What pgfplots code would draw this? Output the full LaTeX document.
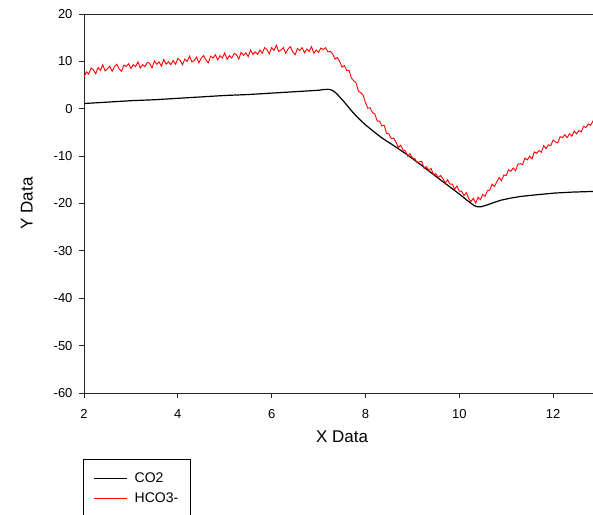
\documentclass[border=0pt]{standalone}
\usepackage{pgfplots}
\pgfplotsset{compat=1.18}
\usepackage{fontspec}
\setmainfont{Liberation Sans}
\begin{document}
\begin{tikzpicture}
\begin{axis}[
  at={(84bp,122bp)}, anchor=south west,
  scale only axis, width=516bp, height=379bp,
  xmin=2, xmax=13, ymin=-60, ymax=20,
  xtick={2,4,...,12}, ytick={-60,-50,...,20},
  tick align=outside, major tick length=5bp,
  xtick pos=bottom, ytick pos=left,
  axis line style={line width=0.9bp, black!85},
  every tick/.style={line width=0.9bp, black!85},
  /pgf/number format/assume math mode=true,
  tick label style={font=\fontsize{13bp}{15bp}\selectfont},
  xticklabel style={yshift=-8bp},
  yticklabel style={xshift=-3bp},
  xlabel={X Data}, ylabel={Y Data},
  label style={font=\fontsize{17bp}{20bp}\selectfont},
  xlabel style={at={(axis description cs:0.5,-0.116)}, anchor=center},
  ylabel style={at={(axis description cs:-0.1107,0.5)}, anchor=center, rotate=0},
  legend style={at={(axis description cs:-0.002,-0.174)}, anchor=north west,
    draw=none, fill=none, font=\fontsize{14bp}{17bp}\selectfont,
    inner xsep=10bp, inner ysep=12bp, row sep=4.5bp, cells={anchor=west}},
  legend image code/.code={\draw[#1, line width=1bp] (0bp,0bp) -- (33bp,0bp);},
]
\addplot[draw=black, line width=1.2bp] coordinates {
(2.0,1.1)(2.5,1.4)(3.0,1.7)(3.5,1.9)(4.0,2.2)(4.5,2.5)(5.0,2.8)(5.5,3.0)(6.0,3.3)(6.5,3.6)
(7.0,3.9)(7.1,4.05)(7.2,4.1)(7.25,4.05)(7.3,3.85)(7.35,3.5)(7.4,3.05)(7.45,2.5)(7.5,1.95)(7.55,1.4)
(7.6,0.8)(7.65,0.2)(7.7,-0.4)(7.8,-1.5)(7.9,-2.5)(8.0,-3.4)(8.1,-4.2)(8.2,-5.0)(8.33,-6.0)(8.45,-6.8)
(8.62,-7.9)(8.8,-9.1)(8.97,-10.3)(9.19,-11.9)(9.36,-13.2)(9.61,-15.1)(9.8,-16.5)(10.04,-18.3)(10.15,-19.2)(10.25,-19.95)
(10.32,-20.45)(10.39,-20.7)(10.45,-20.7)(10.5,-20.6)(10.61,-20.25)(10.75,-19.75)(10.89,-19.3)(11.1,-18.85)(11.32,-18.5)(11.6,-18.2)
(12.03,-17.8)(12.4,-17.6)(12.87,-17.45)
};
\addlegendentry{\hspace{5.5bp}CO2}
\addplot[draw=red, line width=0.9bp] coordinates {
(2.00,6.6)(2.05,7.8)(2.10,7.3)(2.15,8.6)(2.20,8.2)(2.25,7.4)(2.30,8.7)(2.35,8.1)(2.40,9.3)(2.45,8.0)
(2.50,8.4)(2.55,9.0)(2.60,7.9)(2.65,8.9)(2.70,9.4)(2.75,8.4)(2.80,7.9)(2.85,9.2)(2.90,8.9)(2.95,9.5)
(3.00,8.5)(3.05,9.3)(3.10,8.9)(3.15,9.9)(3.20,8.6)(3.25,9.3)(3.30,8.9)(3.35,9.8)(3.40,9.6)(3.45,8.6)
(3.50,10.1)(3.55,9.4)(3.60,9.9)(3.65,9.0)(3.70,10.4)(3.75,9.4)(3.80,9.9)(3.85,9.3)(3.90,10.2)(3.95,9.4)
(4.00,10.6)(4.05,10.2)(4.10,9.3)(4.15,10.5)(4.20,10.0)(4.25,11.1)(4.30,9.9)(4.35,10.2)(4.40,10.9)(4.45,9.7)
(4.50,10.7)(4.55,11.2)(4.60,10.3)(4.65,9.7)(4.70,11.1)(4.75,10.7)(4.80,11.4)(4.85,10.3)(4.90,11.2)(4.95,10.7)
(5.00,11.8)(5.05,10.4)(5.10,11.2)(5.15,10.7)(5.20,11.7)(5.25,11.4)(5.30,10.5)(5.35,11.9)(5.40,11.3)(5.45,11.8)
(5.50,11.0)(5.55,12.4)(5.60,11.5)(5.65,12.0)(5.70,11.5)(5.75,12.4)(5.80,11.7)(5.85,12.9)(5.90,12.5)(5.95,11.6)
(6.00,12.9)(6.05,12.3)(6.10,13.4)(6.15,12.1)(6.20,12.4)(6.25,12.9)(6.30,11.7)(6.35,12.6)(6.40,13.1)(6.45,12.0)
(6.50,11.4)(6.55,12.7)(6.60,12.3)(6.65,12.9)(6.70,11.8)(6.75,12.6)(6.80,12.1)(6.85,13.1)(6.90,11.7)(6.95,12.4)
(7.00,11.9)(7.05,12.8)(7.10,12.5)(7.15,12.9)(7.20,12.0)(7.25,12.1)(7.30,11.6)(7.35,10.5)(7.40,10.8)(7.45,10.0)
(7.50,8.8)(7.55,9.1)(7.60,8.1)(7.65,8.1)(7.70,6.5)(7.75,5.9)(7.80,5.5)(7.85,3.7)(7.90,3.4)(7.95,2.9)
(8.00,1.3)(8.05,0.1)(8.10,0.2)(8.15,-0.8)(8.20,-1.1)(8.25,-2.6)(8.30,-2.6)(8.35,-3.6)(8.40,-3.5)(8.45,-5.2)
(8.50,-5.3)(8.55,-6.3)(8.60,-6.2)(8.65,-7.0)(8.70,-8.2)(8.75,-7.7)(8.80,-8.7)(8.85,-8.9)(8.90,-10.0)(8.95,-9.5)
(9.00,-10.4)(9.05,-10.5)(9.10,-11.4)(9.15,-11.2)(9.20,-11.1)(9.25,-12.6)(9.30,-12.2)(9.35,-13.0)(9.40,-12.6)(9.45,-13.9)
(9.50,-13.7)(9.55,-14.5)(9.60,-14.1)(9.65,-14.7)(9.70,-15.7)(9.75,-15.0)(9.80,-15.9)(9.85,-15.9)(9.90,-17.0)(9.95,-16.3)
(10.00,-17.4)(10.05,-17.4)(10.10,-18.3)(10.15,-17.7)(10.20,-18.9)(10.25,-19.6)(10.30,-18.9)(10.35,-19.9)(10.40,-18.7)(10.45,-19.2)
(10.50,-18.1)(10.55,-18.5)(10.60,-17.3)(10.65,-17.2)(10.70,-15.9)(10.75,-16.4)(10.80,-15.4)(10.85,-14.5)(10.90,-15.2)(10.95,-14.0)
(11.00,-14.1)(11.05,-12.9)(11.10,-13.2)(11.15,-12.5)(11.20,-13.1)(11.25,-11.7)(11.30,-11.6)(11.35,-11.8)(11.40,-10.4)(11.45,-10.8)
(11.50,-10.0)(11.55,-10.6)(11.60,-9.1)(11.65,-9.4)(11.70,-8.8)(11.75,-9.2)(11.80,-7.8)(11.85,-8.4)(11.90,-7.6)(11.95,-7.8)
(12.00,-6.6)(12.05,-7.0)(12.10,-7.2)(12.15,-5.9)(12.20,-6.1)(12.25,-5.5)(12.30,-6.1)(12.35,-5.3)(12.40,-5.8)(12.45,-4.7)
(12.50,-5.3)(12.55,-4.6)(12.60,-4.9)(12.65,-3.7)(12.70,-4.0)(12.75,-3.2)(12.80,-3.5)(12.85,-2.6)(12.87,-2.9)
};
\addlegendentry{\hspace{5.5bp}HCO3-}
\end{axis}
\draw[line width=0.8bp, black] (83bp,-10bp) rectangle (190bp,56bp);
\pgfresetboundingbox
\useasboundingbox (0,0) rectangle (593bp,515bp);
\end{tikzpicture}
\end{document}
